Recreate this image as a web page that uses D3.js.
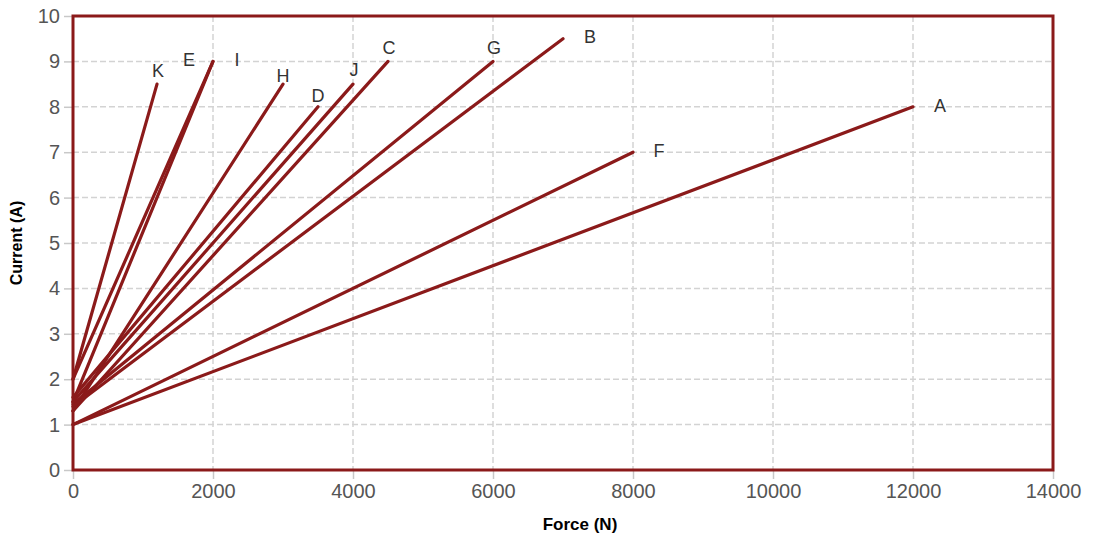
<!DOCTYPE html>
<html><head><meta charset="utf-8">
<script src="https://cdn.jsdelivr.net/npm/d3@7"></script>
<style>body{margin:0;background:#fff}svg{display:block}</style>
</head><body>
<svg id="c" width="1100" height="537"></svg>
<script>
const seriesNames = ["A","F","K","E","I","H","D","J","C","G","B"];
const startForce = [0,0,0,0,0,0,0,0,0,0,0];
const startCurrent = [1.0,1.0,2.0,2.0,1.5,1.3,1.6,1.5,1.3,1.45,1.4];
const endForce = [12000,8000,1200,2000,2000,3000,3500,4000,4500,6000,7000];
const endCurrent = [8,7,8.5,9,9,8.5,8,8.5,9,9,9.5];
const xTicks = [0,2000,4000,6000,8000,10000,12000,14000];
const yTicks = [0,1,2,3,4,5,6,7,8,9,10];
// label offsets (style only)
const labelDx = [27,26,1,-24,24,0,0,1,1,1,27];
const labelDy = [0,0,-12,0,0,-7,-10,-13,-12,-12,0];

const svg = d3.select("#c");
const L=73,R=1053,T=16,B=470;
const x = d3.scaleLinear().domain([0,14000]).range([L,R]);
const y = d3.scaleLinear().domain([0,10]).range([B,T]);
const red = "#8b1a1a";
const font = "Liberation Sans, Arial, sans-serif";

// grid
svg.append("g").selectAll("line").data(yTicks).join("line")
  .attr("x1",L).attr("x2",R).attr("y1",d=>y(d)).attr("y2",d=>y(d))
  .attr("stroke","#d3d3d3").attr("stroke-width",1.5).attr("stroke-dasharray","6,3");
svg.append("g").selectAll("line").data(xTicks).join("line")
  .attr("y1",T).attr("y2",B).attr("x1",d=>x(d)).attr("x2",d=>x(d))
  .attr("stroke","#d3d3d3").attr("stroke-width",1.5).attr("stroke-dasharray","6,3");

// axes
const yAx = svg.append("g").attr("transform",`translate(${L},0)`)
  .call(d3.axisLeft(y).tickValues(yTicks).tickSize(9).tickPadding(4).tickFormat(d3.format("d")));
const xAx = svg.append("g").attr("transform",`translate(0,${B})`)
  .call(d3.axisBottom(x).tickValues(xTicks).tickSize(9).tickPadding(5).tickFormat(d3.format("d")));
[yAx,xAx].forEach(g=>{
  g.select(".domain").remove();
  g.selectAll(".tick line").attr("stroke","#c8c8c8").attr("stroke-width",1.5);
  g.selectAll(".tick text").attr("fill","#555").attr("font-size",20).attr("font-family",font);
});

// lines
const idx = d3.range(seriesNames.length);
svg.append("g").selectAll("line").data(idx).join("line")
  .attr("x1",i=>x(startForce[i])).attr("y1",i=>y(startCurrent[i]))
  .attr("x2",i=>x(endForce[i])).attr("y2",i=>y(endCurrent[i]))
  .attr("stroke",red).attr("stroke-width",3.2).attr("stroke-linecap","round");

// border
svg.append("rect").attr("x",L).attr("y",T).attr("width",R-L).attr("height",B-T)
  .attr("fill","none").attr("stroke",red).attr("stroke-width",3);

// labels
svg.append("g").selectAll("text").data(idx).join("text")
  .attr("x",i=>x(endForce[i])+labelDx[i]).attr("y",i=>y(endCurrent[i])+labelDy[i])
  .attr("text-anchor","middle").attr("dominant-baseline","middle")
  .attr("font-size",18).attr("fill","#333").attr("font-family",font)
  .text(i=>seriesNames[i]);

// titles
svg.append("text").attr("x",580).attr("y",530).attr("text-anchor","middle")
  .attr("font-size",17).attr("font-weight","bold").attr("font-family",font)
  .text("Force (N)");
svg.append("text").attr("transform",`translate(22,${(T+B)/2}) rotate(-90)`).attr("text-anchor","middle")
  .attr("font-size",16).attr("font-weight","bold").attr("font-family",font)
  .text("Current (A)");
</script>
</body></html>
